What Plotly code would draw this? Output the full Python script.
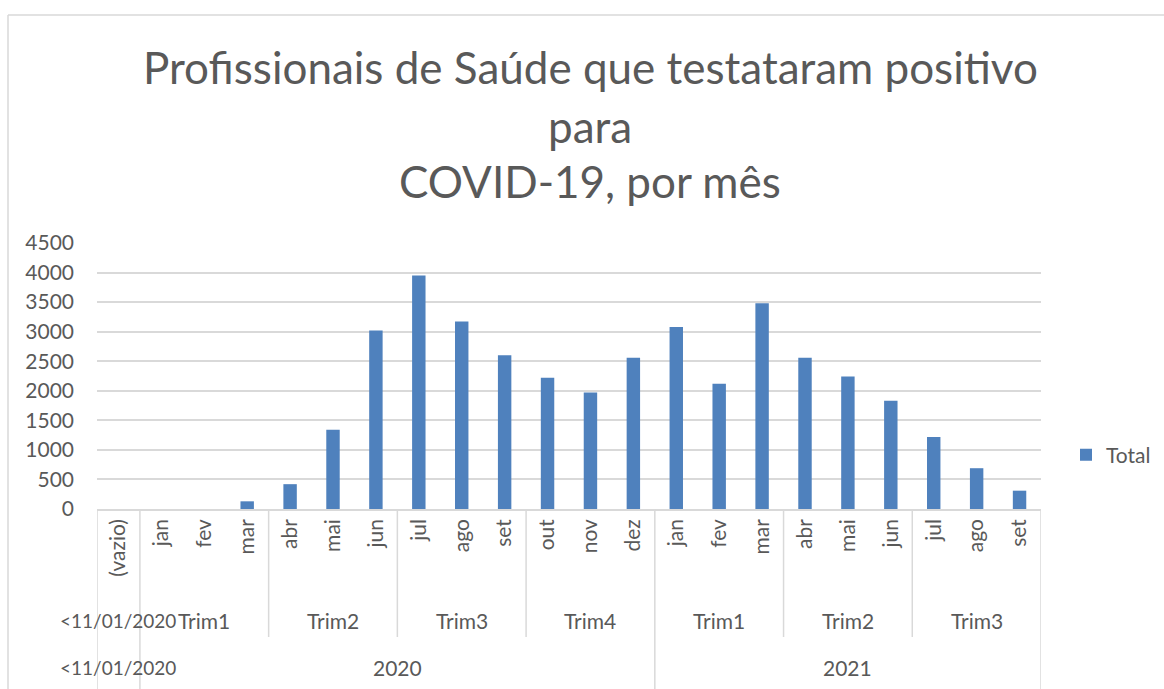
import plotly.graph_objects as go

months = ["(vazio)", "jan", "fev", "mar", "abr", "mai", "jun", "jul", "ago", "set", "out", "nov", "dez",
          "jan", "fev", "mar", "abr", "mai", "jun", "jul", "ago", "set"]
values = [0, 0, 0, 130, 420, 1340, 3020, 3950, 3170, 2600, 2220, 1970, 2560,
          3080, 2120, 3480, 2560, 2240, 1830, 1220, 690, 310]
quarters = ["<11/01/2020", "Trim1", "Trim2", "Trim3", "Trim4", "Trim1", "Trim2", "Trim3"]
quarter_sizes = [1, 3, 3, 3, 3, 3, 3, 3]
years = ["<11/01/2020", "2020", "2021"]
year_sizes = [1, 12, 9]
title_lines = ["Profissionais de Saúde que testataram positivo", "para", "COVID-19, por mês"]

TXT = "#595959"
GRID = "#d9d9d9"
FONT = "Lato"

# plot area geometry (pixels)
L, R, T, B = 97, 123, 243, 180
W, H = 1164, 689
ph = H - T - B
pw = W - L - R

def py(p):
    return (H - B - p) / ph

def px(p):
    return (p - L) / pw

x = list(range(len(months)))

fig = go.Figure()
fig.add_trace(go.Bar(x=x, y=values, name="Total", marker=dict(color="#4f81bd", line=dict(width=0))))

shapes = []
annotations = []

# title lines
for line, yc in zip(title_lines, [67, 126, 181]):
    annotations.append(dict(x=px(590), y=py(yc), xref="paper", yref="paper", text=line, showarrow=False,
                            font=dict(size=44, color=TXT, family=FONT), xanchor="center", yanchor="middle"))

def lab_size(name):
    return 19 if name.startswith("<") else 21

# quarter row and year row
start = 0
full_bounds = {-0.5}
q_bounds = set()
for name, n in zip(quarters, quarter_sizes):
    c = start + (n - 1) / 2
    annotations.append(dict(x=c, y=py(620), xref="x", yref="paper", text=name, showarrow=False,
                            font=dict(size=lab_size(name), color=TXT, family=FONT),
                            xanchor="center", yanchor="middle"))
    start += n
    q_bounds.add(start - 0.5)
start = 0
for name, n in zip(years, year_sizes):
    c = start + (n - 1) / 2
    annotations.append(dict(x=c, y=py(667), xref="x", yref="paper", text=name, showarrow=False,
                            font=dict(size=lab_size(name), color=TXT, family=FONT),
                            xanchor="center", yanchor="middle"))
    start += n
    full_bounds.add(start - 0.5)

for b in sorted(full_bounds):
    shapes.append(dict(type="line", xref="x", yref="paper", x0=b, x1=b, y0=0, y1=py(690),
                       line=dict(color=GRID, width=1.5)))
for b in sorted(q_bounds - full_bounds):
    shapes.append(dict(type="line", xref="x", yref="paper", x0=b, x1=b, y0=0, y1=py(637),
                       line=dict(color=GRID, width=1.5)))

# chart border
shapes.append(dict(type="line", xref="paper", yref="paper", x0=px(8), x1=px(1170), y0=py(15), y1=py(15),
                   line=dict(color=GRID, width=1.5)))
shapes.append(dict(type="line", xref="paper", yref="paper", x0=px(8), x1=px(8), y0=py(15), y1=py(695),
                   line=dict(color=GRID, width=1.5)))

fig.update_layout(
    width=W, height=H, autosize=False,
    margin=dict(l=L, r=R, t=T, b=B, autoexpand=False),
    paper_bgcolor="white", plot_bgcolor="white",
    bargap=0.687,
    font=dict(family=FONT, color=TXT, size=20),
    xaxis=dict(range=[-0.5, len(months) - 0.5], tickmode="array", tickvals=x, ticktext=months,
               tickangle=-90, showgrid=False, showline=True, linecolor=GRID, linewidth=1.5,
               ticks="", tickfont=dict(size=21, color=TXT, family=FONT), zeroline=False, fixedrange=True),
    yaxis=dict(range=[0, 4500], dtick=500, tick0=0, showgrid=True, gridcolor=GRID, gridwidth=1.5,
               zeroline=False, showline=False, ticks="", ticklabelstandoff=22,
               tickfont=dict(size=21, color=TXT, family=FONT)),
    showlegend=True,
    legend=dict(x=px(1066), y=py(455), xanchor="left", yanchor="middle",
                font=dict(size=21, color=TXT, family=FONT), bgcolor="rgba(0,0,0,0)"),
    shapes=shapes,
    annotations=annotations,
)

fig.write_html("out.html", config={"displayModeBar": False},
               post_script="document.body.style.margin='0';document.body.style.overflow='hidden';")
